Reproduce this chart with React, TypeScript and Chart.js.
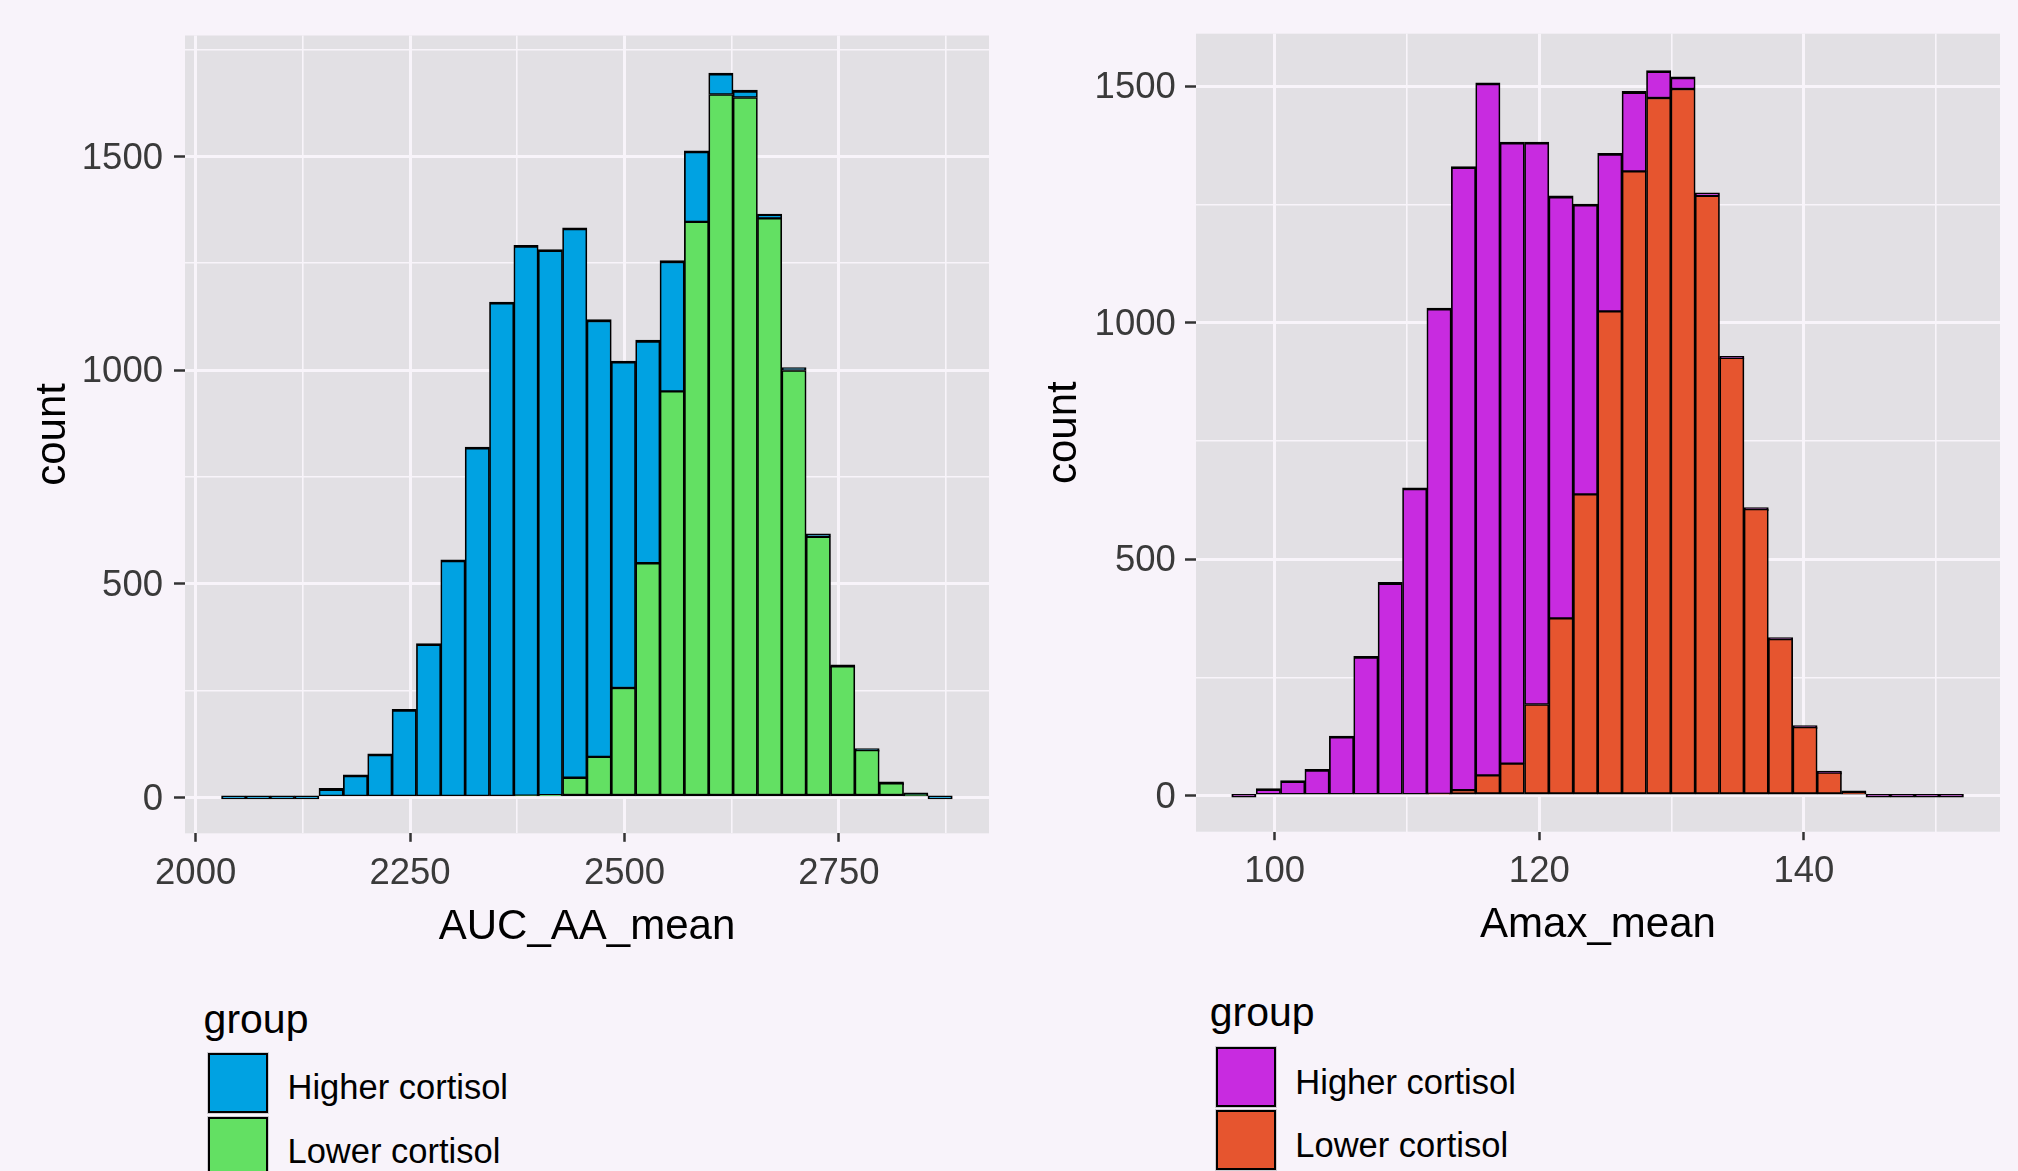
import React, { useEffect, useRef } from "react";
import { Chart, registerables } from "chart.js";

Chart.register(...registerables);

const FONT = "'Liberation Sans', Arial, Helvetica, sans-serif";

// ---------- Left panel: AUC_AA_mean ----------
const aucBins = [
  2044.4, 2072.8, 2101.2, 2129.6, 2158.0, 2186.4, 2214.8, 2243.2, 2271.6, 2300.0,
  2328.4, 2356.8, 2385.2, 2413.6, 2442.0, 2470.4, 2498.8, 2527.2, 2555.6, 2584.0,
  2612.4, 2640.8, 2669.2, 2697.6, 2726.0, 2754.4, 2782.8, 2811.2, 2839.6, 2868.0,
];
const aucHigher = [
  0, 0, 0, 0, 21, 53, 102, 206, 360, 556,
  820, 1159, 1288, 1277, 1287, 1023, 765, 522, 306, 166,
  50, 17, 10, 4, 2, 0, 0, 0, 0, 0,
];
const aucLower = [
  0, 0, 0, 0, 0, 0, 0, 0, 0, 0,
  0, 0, 4, 5, 46, 95, 256, 548, 950, 1347,
  1645, 1638, 1355, 999, 610, 307, 111, 33, 7, 0,
];
const aucXMajor = [2000, 2250, 2500, 2750];
const aucXMinor = [2125, 2375, 2625, 2875];
const aucYMajor = [0, 500, 1000, 1500];
const aucYMinor = [250, 750, 1250, 1750];

// ---------- Right panel: Amax_mean ----------
const amaxBins = [
  97.67, 99.52, 101.36, 103.2, 105.05, 106.89, 108.73, 110.58, 112.42, 114.27,
  116.11, 117.95, 119.8, 121.64, 123.49, 125.33, 127.17, 129.02, 130.86, 132.7,
  134.55, 136.39, 138.23, 140.08, 141.92, 143.77, 145.61, 147.45, 149.3, 151.14,
];
const amaxHigher = [
  0, 15, 32, 56, 126, 295, 451, 651, 1027, 1318,
  1464, 1314, 1189, 893, 614, 334, 169, 58, 26, 4,
  0, 0, 0, 0, 0, 0, 0, 0, 0, 0,
];
const amaxLower = [
  0, 0, 0, 0, 0, 0, 0, 0, 4, 12,
  43, 68, 193, 375, 637, 1024, 1320, 1475, 1494, 1268,
  926, 606, 331, 145, 49, 7, 0, 0, 0, 0,
];
const amaxXMajor = [100, 120, 140];
const amaxXMinor = [110, 130, 150];
const amaxYMajor = [0, 500, 1000, 1500];
const amaxYMinor = [250, 750, 1250];

const groups = ["Higher cortisol", "Lower cortisol"];
const legendTitle = "group";
const yTitle = "count";

const PAGE_BG = "#F8F3FA";
const PANEL_BG = "#E2E0E4";
const GRID = "#F8F4FA";

type Spec = {
  bins: number[];
  higher: number[];
  lower: number[];
  xMajor: number[];
  xMinor: number[];
  yMajor: number[];
  yMinor: number[];
  xMin: number;
  xMax: number;
  yMin: number;
  yMax: number;
  xTitle: string;
  higherColor: string;
  lowerColor: string;
  left: number;
  width: number;
  padTop: number;
  padRight: number;
  yAxisWidth: number;
  xAxisHeight: number;
  yTickPad: number;
  yTitlePad: number;
  xTitlePad: number;
  legend: {
    titleLeft: number;
    titleTop: number;
    keyLeft: number;
    keyTops: number[];
    labelLeft: number;
    labelTops: number[];
  };
};

const leftSpec: Spec = {
  bins: aucBins,
  higher: aucHigher,
  lower: aucLower,
  xMajor: aucXMajor,
  xMinor: aucXMinor,
  yMajor: aucYMajor,
  yMinor: aucYMinor,
  xMin: 1987.6,
  xMax: 2925,
  yMin: -84,
  yMax: 1783,
  xTitle: "AUC_AA_mean",
  higherColor: "#00A2E2",
  lowerColor: "#63E063",
  left: 0,
  width: 1010,
  padTop: 35.5,
  padRight: 21,
  yAxisWidth: 185,
  xAxisHeight: 126.7,
  yTickPad: 11,
  yTitlePad: 27.85,
  xTitlePad: 7.75,
  legend: {
    titleLeft: 203.6,
    titleTop: 998.8,
    keyLeft: 208,
    keyTops: [1053, 1116.5],
    labelLeft: 287.5,
    labelTops: [1070.4, 1133.6],
  },
};

const rightSpec: Spec = {
  bins: amaxBins,
  higher: amaxHigher,
  lower: amaxLower,
  xMajor: amaxXMajor,
  xMinor: amaxXMinor,
  yMajor: amaxYMajor,
  yMinor: amaxYMinor,
  xMin: 94.05,
  xMax: 154.82,
  yMin: -76,
  yMax: 1611,
  xTitle: "Amax_mean",
  higherColor: "#C82BE0",
  lowerColor: "#E6552F",
  left: 1010,
  width: 1008,
  padTop: 33.7,
  padRight: 18,
  yAxisWidth: 186,
  xAxisHeight: 128.3,
  yTickPad: 9.2,
  yTitlePad: 29.45,
  xTitlePad: 9.05,
  legend: {
    titleLeft: 1209.8,
    titleTop: 992.1,
    keyLeft: 1215.6,
    keyTops: [1046.7, 1110],
    labelLeft: 1295.3,
    labelTops: [1064.6, 1128.2],
  },
};

const panelBgPlugin = {
  id: "panelBg",
  beforeDraw(chart: any) {
    const { ctx, chartArea: a } = chart;
    if (!a) return;
    ctx.save();
    ctx.fillStyle = PANEL_BG;
    ctx.fillRect(a.left, a.top, a.right - a.left, a.bottom - a.top);
    ctx.restore();
  },
};

const CANVAS_H = 960;

function HistPanel({ spec }: { spec: Spec }) {
  const ref = useRef<HTMLCanvasElement | null>(null);

  useEffect(() => {
    if (!ref.current) return;
    const xAll = [...spec.xMajor, ...spec.xMinor].sort((a, b) => a - b);
    const yAll = [...spec.yMajor, ...spec.yMinor].sort((a, b) => a - b);
    const lw = (major: number[]) => (ctx: any) =>
      ctx.tick && major.includes(ctx.tick.value) ? 3 : 1.6;
    const tc = (major: number[]) => (ctx: any) =>
      ctx.tick && major.includes(ctx.tick.value) ? "#333333" : "rgba(0,0,0,0)";

    const chart = new Chart(ref.current, {
      type: "bar",
      data: {
        labels: spec.bins,
        datasets: [
          {
            label: groups[1],
            data: spec.lower,
            backgroundColor: spec.lowerColor,
            borderColor: "#000000",
            borderWidth: { left: 1.7, right: 1.7, top: 1.5, bottom: 2.4 },
            borderSkipped: false,
            minBarLength: 0,
            barPercentage: 1,
            categoryPercentage: 1,
          },
          {
            label: groups[0],
            data: spec.higher,
            backgroundColor: spec.higherColor,
            borderColor: "#000000",
            borderWidth: { left: 1.7, right: 1.7, top: 2.8, bottom: 1.5 },
            borderSkipped: false,
            minBarLength: 3,
            barPercentage: 1,
            categoryPercentage: 1,
          },
        ],
      } as any,
      options: {
        responsive: false,
        animation: false,
        devicePixelRatio: 1,
        events: [],
        layout: {
          padding: { left: 0, top: spec.padTop, right: spec.padRight, bottom: 0 },
        },
        plugins: {
          legend: { display: false },
          tooltip: { enabled: false },
        },
        scales: {
          x: {
            type: "linear",
            stacked: true,
            min: spec.xMin,
            max: spec.xMax,
            offset: false,
            afterBuildTicks: (axis: any) => {
              axis.ticks = xAll.map((v) => ({ value: v }));
            },
            afterFit: (axis: any) => {
              axis.height = spec.xAxisHeight;
            },
            ticks: {
              autoSkip: false,
              maxRotation: 0,
              minRotation: 0,
              padding: 10,
              color: "#3a3a3a",
              font: { family: FONT, size: 36.5 },
              callback: (v: any) => (spec.xMajor.includes(Number(v)) ? String(v) : ""),
            },
            grid: {
              offset: false,
              color: GRID,
              lineWidth: lw(spec.xMajor),
              drawTicks: true,
              tickLength: 8.5,
              tickColor: tc(spec.xMajor),
              tickWidth: 2.5,
            },
            border: { display: false },
            title: {
              display: true,
              text: spec.xTitle,
              color: "#000000",
              font: { family: FONT, size: 42 },
              padding: { top: 0, bottom: spec.xTitlePad },
            },
          },
          y: {
            type: "linear",
            stacked: true,
            min: spec.yMin,
            max: spec.yMax,
            beginAtZero: false,
            afterBuildTicks: (axis: any) => {
              axis.ticks = yAll.map((v) => ({ value: v }));
            },
            afterFit: (axis: any) => {
              axis.width = spec.yAxisWidth;
            },
            ticks: {
              autoSkip: false,
              padding: spec.yTickPad,
              labelOffset: 2.2,
              color: "#3a3a3a",
              font: { family: FONT, size: 36.5 },
              callback: (v: any) => (spec.yMajor.includes(Number(v)) ? String(v) : ""),
            },
            grid: {
              color: GRID,
              lineWidth: lw(spec.yMajor),
              drawTicks: true,
              tickLength: 11,
              tickColor: tc(spec.yMajor),
              tickWidth: 2.5,
            },
            border: { display: false },
            title: {
              display: true,
              text: yTitle,
              color: "#000000",
              font: { family: FONT, size: 42 },
              padding: { top: spec.yTitlePad, bottom: 0 },
            },
          },
        },
      } as any,
      plugins: [panelBgPlugin],
    });
    return () => chart.destroy();
  }, [spec]);

  return (
    <canvas
      ref={ref}
      width={spec.width}
      height={CANVAS_H}
      style={{
        position: "absolute",
        left: spec.left,
        top: 0,
        width: spec.width,
        height: CANVAS_H,
      }}
    />
  );
}

function Legend({ spec }: { spec: Spec }) {
  const L = spec.legend;
  const colors = [spec.higherColor, spec.lowerColor];
  return (
    <>
      <div
        style={{
          position: "absolute",
          left: L.titleLeft,
          top: L.titleTop,
          fontFamily: FONT,
          fontSize: 41,
          lineHeight: "41px",
          color: "#000",
          whiteSpace: "nowrap",
        }}
      >
        {legendTitle}
      </div>
      {groups.map((g, i) => (
        <React.Fragment key={g}>
          <div
            style={{
              position: "absolute",
              left: L.keyLeft - 1,
              top: L.keyTops[i] - 1,
              width: 62,
              height: 62,
              background: "#CFCCD2",
            }}
          />
          <div
            style={{
              position: "absolute",
              left: L.keyLeft,
              top: L.keyTops[i],
              width: 60,
              height: 60,
              boxSizing: "border-box",
              border: "2px solid #000",
              background: colors[i],
            }}
          />
          <div
            style={{
              position: "absolute",
              left: L.labelLeft,
              top: L.labelTops[i],
              fontFamily: FONT,
              fontSize: 34.5,
              lineHeight: "35px",
              color: "#000",
              whiteSpace: "nowrap",
            }}
          >
            {g}
          </div>
        </React.Fragment>
      ))}
    </>
  );
}

export default function App() {
  return (
    <div
      style={{
        position: "absolute",
        left: 0,
        top: 0,
        width: 2018,
        height: 1171,
        background: PAGE_BG,
        overflow: "hidden",
      }}
    >
      <HistPanel spec={leftSpec} />
      <HistPanel spec={rightSpec} />
      <Legend spec={leftSpec} />
      <Legend spec={rightSpec} />
    </div>
  );
}
